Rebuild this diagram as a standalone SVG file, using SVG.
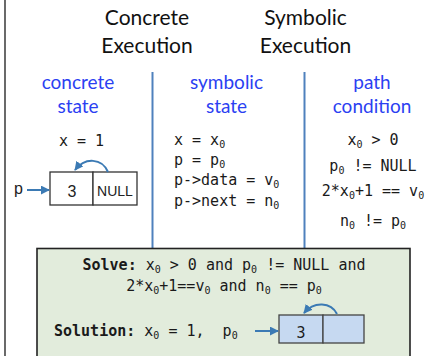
<svg xmlns="http://www.w3.org/2000/svg" width="427" height="356" viewBox="0 0 427 356">
<defs>
<style>
.title{font-family:Lato,"Liberation Sans",sans-serif;font-size:21px;fill:#111;text-anchor:middle}
.lbl{font-family:Lato,"Liberation Sans",sans-serif;font-size:19px;fill:#2b3ff2;text-anchor:middle}
.mono{font-family:"DejaVu Sans Mono","Liberation Mono",monospace;font-size:15px;fill:#1a1a1a}
.sub{font-size:10px}
.sans{font-family:"Liberation Sans",Arial,sans-serif;fill:#222}
.div{stroke:#4f81bd;stroke-width:2}
.conn{stroke:#3b7ab4;stroke-width:2;fill:none}
.cell{fill:#fff;stroke:#333;stroke-width:1.3}
.cellb{fill:#c6d9f1;stroke:#444;stroke-width:1.3}
</style>
<marker id="ah" viewBox="0 0 10 10" refX="9" refY="5" markerWidth="4.5" markerHeight="4.5" orient="auto-start-reverse">
<path d="M0,0 L10,5 L0,10 z" fill="#3b7ab4"/>
</marker>
</defs>
<rect width="427" height="356" fill="#fff"/>
<line x1="5" y1="0" x2="5" y2="356" stroke="#444" stroke-width="1.6"/>

<g id="headers">
<text class="title" x="147" y="25">Concrete</text>
<text class="title" x="147" y="53">Execution</text>
<text class="title" x="305.5" y="25">Symbolic</text>
<text class="title" x="305.5" y="53">Execution</text>
<text class="lbl" x="78" y="89">concrete</text>
<text class="lbl" x="78" y="113">state</text>
<text class="lbl" x="226.5" y="89">symbolic</text>
<text class="lbl" x="226.5" y="113">state</text>
<text class="lbl" x="372" y="89">path</text>
<text class="lbl" x="372" y="113">condition</text>
</g>

<g id="dividers">
<line class="div" x1="152.5" y1="72" x2="152.5" y2="248"/>
<line class="div" x1="304.5" y1="72" x2="304.5" y2="248"/>
</g>

<g id="concrete-state">
<text class="mono" x="81.5" y="146" text-anchor="middle">x = 1</text>
<text class="sans" x="14" y="194" font-size="16">p</text>
<rect class="cell" x="50" y="172" width="43" height="33"/>
<rect class="cell" x="93" y="172" width="44" height="33"/>
<text class="sans" x="72" y="197" font-size="16" text-anchor="middle">3</text>
<text class="sans" x="115" y="196" font-size="14" text-anchor="middle">NULL</text>
</g>

<g id="symbolic-state">
<text class="mono" x="174" y="145">x = x<tspan class="sub" dy="3">0</tspan></text>
<text class="mono" x="174" y="165">p = p<tspan class="sub" dy="3">0</tspan></text>
<text class="mono" x="174" y="185">p-&gt;data = v<tspan class="sub" dy="3">0</tspan></text>
<text class="mono" x="174" y="206">p-&gt;next = n<tspan class="sub" dy="3">0</tspan></text>
</g>

<g id="path-condition">
<text class="mono" x="373" y="145" text-anchor="middle">x<tspan class="sub" dy="3">0</tspan><tspan dy="-3"> &gt; 0</tspan></text>
<text class="mono" x="373" y="171" text-anchor="middle">p<tspan class="sub" dy="3">0</tspan><tspan dy="-3"> != NULL</tspan></text>
<text class="mono" x="373" y="196" text-anchor="middle">2*x<tspan class="sub" dy="3">0</tspan><tspan dy="-3">+1 == v</tspan><tspan class="sub" dy="3">0</tspan></text>
<text class="mono" x="373" y="226" text-anchor="middle">n<tspan class="sub" dy="3">0</tspan><tspan dy="-3"> != p</tspan><tspan class="sub" dy="3">0</tspan></text>
</g>

<g id="solver">
<rect x="37" y="248.5" width="373" height="120" fill="#e2ecdc" stroke="#222" stroke-width="1.6"/>
<text class="mono" x="224" y="270" text-anchor="middle"><tspan font-weight="bold">Solve:</tspan> x<tspan class="sub" dy="3">0</tspan><tspan dy="-3"> &gt; 0 and p</tspan><tspan class="sub" dy="3">0</tspan><tspan dy="-3"> != NULL and</tspan></text>
<text class="mono" x="224" y="291" text-anchor="middle">2*x<tspan class="sub" dy="3">0</tspan><tspan dy="-3">+1==v</tspan><tspan class="sub" dy="3">0</tspan><tspan dy="-3"> and n</tspan><tspan class="sub" dy="3">0</tspan><tspan dy="-3"> == p</tspan><tspan class="sub" dy="3">0</tspan></text>
<text class="mono" x="54" y="336"><tspan font-weight="bold">Solution:</tspan> x<tspan class="sub" dy="3">0</tspan><tspan dy="-3"> = 1,&#160; p</tspan><tspan class="sub" dy="3">0</tspan></text>
<rect class="cellb" x="279" y="315" width="44" height="28"/>
<rect class="cellb" x="323" y="315" width="41" height="28"/>
<text class="mono" x="301" y="338" font-size="12" text-anchor="middle">3</text>
</g>

<g id="connectors">
<line class="conn" x1="27" y1="190" x2="49" y2="190" marker-end="url(#ah)"/>
<path class="conn" d="M108,172 C102,158 85,157 75,170" marker-end="url(#ah)"/>
<line class="conn" x1="255" y1="331" x2="278" y2="331" marker-end="url(#ah)"/>
<path class="conn" d="M337,314 C331,302 314,301 304,313" marker-end="url(#ah)"/>
</g>
</svg>
